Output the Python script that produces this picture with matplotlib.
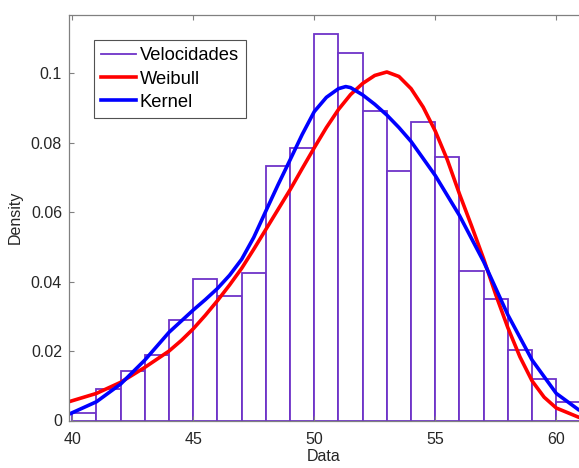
import matplotlib
matplotlib.use('Agg')
import matplotlib.pyplot as plt
from matplotlib.lines import Line2D
import numpy as np

plt.rcParams['font.family'] = ['Liberation Sans', 'DejaVu Sans']

# histograma (ancho de clase 1)
bin_edges = list(range(40, 62))
densidad = [0.0021, 0.0090, 0.0143, 0.0188, 0.0289, 0.0408, 0.0358, 0.0424,
            0.0732, 0.0783, 0.1112, 0.1058, 0.0892, 0.0718, 0.0858, 0.0757,
            0.0429, 0.0349, 0.0203, 0.0119, 0.0054]

# curva Weibull
x_weibull = [39.86, 41, 42, 43, 44, 44.5, 45, 45.5, 46, 46.5, 47, 47.5, 48,
             48.5, 49, 49.5, 50, 50.5, 51, 51.5, 52, 52.5, 53, 53.5, 54, 54.5,
             55, 55.5, 56, 56.5, 57, 57.5, 58, 58.5, 59, 59.5, 60, 60.94]
y_weibull = [0.0054, 0.0078, 0.0110, 0.0153, 0.0200, 0.0230, 0.0264, 0.0303,
             0.0345, 0.0390, 0.0438, 0.0493, 0.0550, 0.0607, 0.0664, 0.0725,
             0.0785, 0.0843, 0.0895, 0.0938, 0.0970, 0.0993, 0.1003, 0.0990,
             0.0955, 0.0902, 0.0833, 0.0750, 0.0652, 0.0560, 0.0465, 0.0362,
             0.0267, 0.0183, 0.0114, 0.0067, 0.0036, 0.0009]

# curva Kernel
x_kernel = [39.86, 41, 42, 43, 44, 45, 45.5, 46, 46.5, 47, 47.5, 48, 48.5,
            49, 49.5, 50, 50.5, 51, 51.3, 51.5, 52, 52.5, 53, 53.5, 54, 55,
            56, 57, 58, 59, 60, 60.94]
y_kernel = [0.0018, 0.0054, 0.0105, 0.0174, 0.0254, 0.0318, 0.0348, 0.0380,
            0.0418, 0.0464, 0.0527, 0.0603, 0.0678, 0.0750, 0.0823, 0.0889,
            0.0930, 0.0955, 0.0961, 0.0958, 0.0937, 0.0910, 0.0879, 0.0843,
            0.0803, 0.0705, 0.0590, 0.0457, 0.0304, 0.0174, 0.0078, 0.0030]

fig = plt.figure(figsize=(5.79, 4.68), dpi=100)
ax = fig.add_axes([69 / 579, 47.5 / 468, 510 / 579, 405.5 / 468])

lefts = bin_edges[:-1]
widths = np.diff(bin_edges)
ax.bar(lefts, densidad, width=widths, align='edge', facecolor='white',
       edgecolor='#6e33c8', linewidth=1.3)
ax.plot(x_weibull, y_weibull, color='#ff0000', linewidth=2.6,
        solid_joinstyle='round', solid_capstyle='round')
ax.plot(x_kernel, y_kernel, color='#0000ff', linewidth=2.6,
        solid_joinstyle='round', solid_capstyle='round')

ax.set_xlim(39.864, 60.94)
ax.set_ylim(0, 0.1167)
ax.set_xticks([40, 45, 50, 55, 60])
ax.set_yticks([0, 0.02, 0.04, 0.06, 0.08, 0.1])
ax.set_yticklabels(['0', '0.02', '0.04', '0.06', '0.08', '0.1'])

for s in ['left', 'bottom', 'top']:
    ax.spines[s].set_color('#808080')
    ax.spines[s].set_linewidth(0.9)
ax.spines['right'].set_visible(False)
ax.tick_params(direction='in', length=3.5, width=0.8, color='#808080',
               labelcolor='#262626', labelsize=11.5, top=True)
ax.tick_params(axis='x', pad=8)
ax.tick_params(axis='y', pad=5)

ax.set_xlabel('Data', fontsize=11.5, color='#262626', labelpad=2)
ax.set_ylabel('Density', fontsize=11.5, color='#262626', labelpad=6)

# el histograma aparece como linea en la leyenda
handles = [Line2D([], [], color='#6e33c8', linewidth=1.3),
           Line2D([], [], color='#ff0000', linewidth=2.6),
           Line2D([], [], color='#0000ff', linewidth=2.6)]
leg = ax.legend(handles, ['Velocidades', 'Weibull', 'Kernel'],
                loc='upper left', bbox_to_anchor=(25 / 510, 1 - 25 / 405.5),
                fontsize=13.2, frameon=True, fancybox=False, handlelength=1.9,
                handletextpad=0.2, borderpad=0.4, labelspacing=0.34,
                borderaxespad=0)
leg.get_frame().set_edgecolor('#262626')
leg.get_frame().set_linewidth(0.8)

fig.savefig('out.png', dpi=100)
